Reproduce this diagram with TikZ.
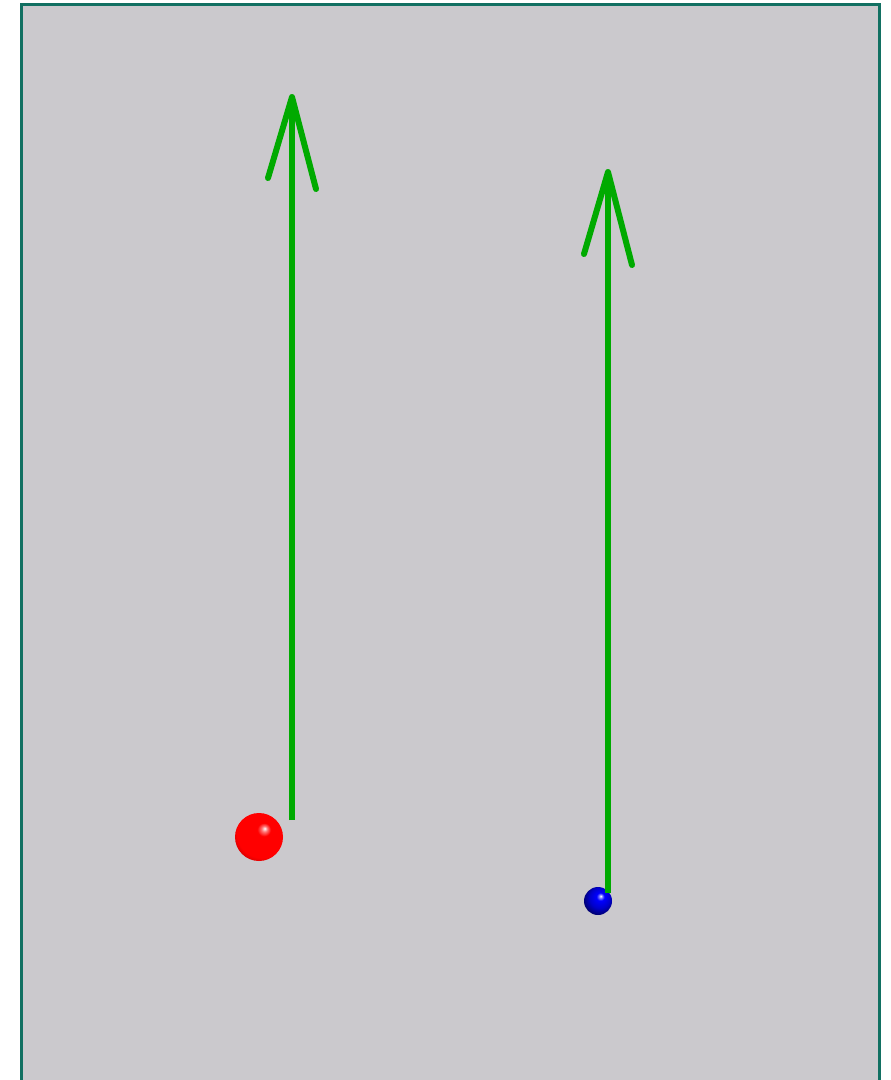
\documentclass[tikz,border=0pt]{standalone}
\usepackage{tikz}
\usetikzlibrary{calc}

\definecolor{framegreen}{RGB}{18,112,98}
\definecolor{panelgray}{RGB}{203,201,205}
\definecolor{vecgreen}{RGB}{0,170,0}

\pgfdeclareradialshading{redball}{\pgfpoint{6bp}{9bp}}{%
	color(0bp)=(white); color(3bp)=(red!55!white); color(7bp)=(red);
	color(26bp)=(red); color(34bp)=(red!70!black); color(50bp)=(red!70!black)}
\pgfdeclareradialshading{blueball}{\pgfpoint{5bp}{9bp}}{%
	color(0bp)=(white); color(3bp)=(blue!50!white); color(7bp)=(blue);
	color(18bp)=(blue!80!black); color(30bp)=(blue!40!black); color(50bp)=(blue!40!black)}

\begin{document}
\begin{tikzpicture}
	[   x=1pt,y=-1pt,
	    ball/.style={circle,inner sep=0pt,minimum size=#1},
	]
	\tikzset{vec line/.style={draw=vecgreen,line width=5.5pt},
	         vec head/.style={draw=vecgreen,line width=6pt,line cap=round,line join=round}}
	\useasboundingbox (0,0) rectangle (891,1080);
	
	% panel
	\fill[white] (0,0) rectangle (891,1080);
	\filldraw[fill=panelgray,draw=framegreen,line width=3pt] (21.5,4.5) rectangle (879.5,1090);
	
	% particles
	\node[ball=48pt,shading=redball] (q-1) at (259,837) {};
	\node[ball=28pt,shading=blueball] (q-2) at (598,901) {};
	
	% vector ends
	\coordinate (base-1) at (292,820);
	\coordinate (tip-1) at (292,97);
	\coordinate (bl-1) at (268,178);
	\coordinate (br-1) at (316,189);
	
	\coordinate (base-2) at (608,893);
	\coordinate (tip-2) at (608,172);
	\coordinate (bl-2) at (584,254);
	\coordinate (br-2) at (632,265);
	
	\foreach \x in {1,2}
	{
		\path[vec line] (base-\x) -- (tip-\x);
		\path[vec head] (bl-\x) -- (tip-\x) -- (br-\x);
	}
\end{tikzpicture}
\end{document}
